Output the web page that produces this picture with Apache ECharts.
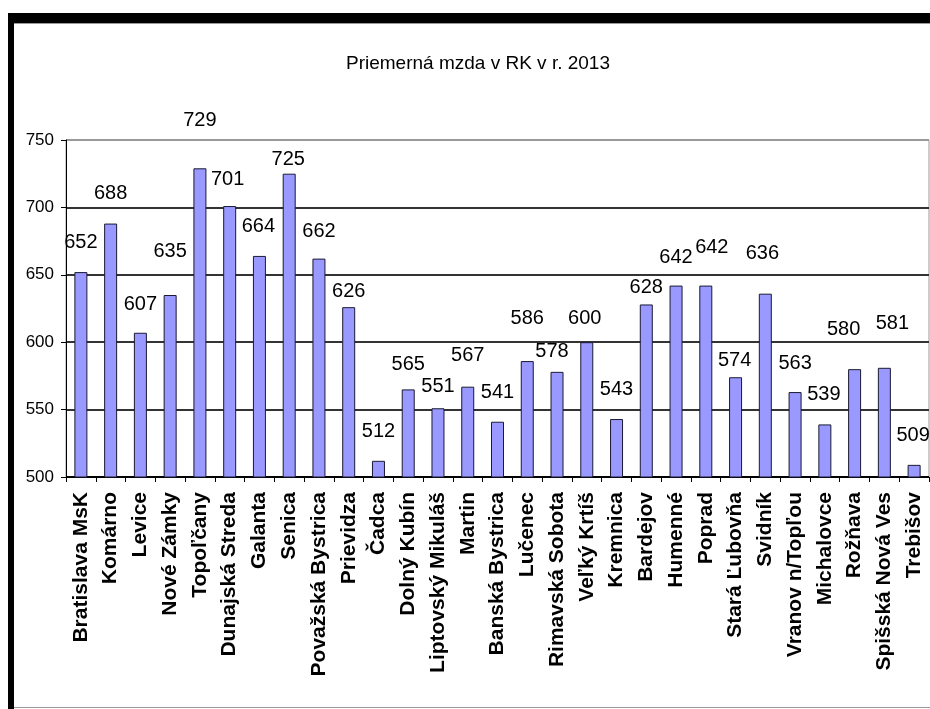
<!DOCTYPE html>
<html><head><meta charset="utf-8">
<script src="https://cdn.jsdelivr.net/npm/echarts@6/dist/echarts.min.js"></script>
<style>html,body{margin:0;padding:0;background:#fff}#c{width:930px;height:709px}</style>
</head><body><div id="c"></div>
<script>
const titleText = 'Priemerná mzda v RK v r. 2013';
const categories = ['Bratislava MsK','Komárno','Levice','Nové Zámky','Topoľčany','Dunajská Streda','Galanta','Senica','Považská Bystrica','Prievidza','Čadca','Dolný Kubín','Liptovský Mikuláš','Martin','Banská Bystrica','Lučenec','Rimavská Sobota','Veľký Krtíš','Kremnica','Bardejov','Humenné','Poprad','Stará Ľubovňa','Svidník','Vranov n/Topľou','Michalovce','Rožňava','Spišská Nová Ves','Trebišov'];
const wages = [652,688,607,635,729,701,664,725,662,626,512,565,551,567,541,586,578,600,543,628,642,642,574,636,563,539,580,581,509];
const yTicks = [500,550,600,650,700,750];
// manual label placement (px above bar top, px horizontal shift), as in the source
const labelLift = [30,30,28,44,48,27,29,14,27,16,29,25,22,31,29,43,20,24,30,17,28,38,17,40,29,30,40,44,29];
const labelShift = [0,0,0,0,0,-2,-1,-1,0,0,0,0,0,0,0,0,-5,-2,0,0,0,6,-1,-3,0,-1,-11,8,-1];

const sans = '"Liberation Sans",Arial,sans-serif';
const chart = echarts.init(document.getElementById('c'), null, {renderer:'canvas'});
chart.setOption({
  animation:false,
  backgroundColor:'#fff',
  title:{text:titleText,left:473,top:49,textAlign:'center',
    textStyle:{fontFamily:sans,fontSize:19,fontWeight:'normal',color:'#000'}},
  grid:{left:66,top:140,right:1,bottom:232,show:true,borderColor:'#999',borderWidth:1,containLabel:false},
  xAxis:{type:'category',data:categories,
    axisLine:{lineStyle:{color:'#000',width:1}},
    axisTick:{show:true,alignWithLabel:false,length:5,lineStyle:{color:'#000'}},
    axisLabel:{rotate:90,interval:0,margin:15,color:'#000',fontFamily:sans,fontWeight:'bold',fontSize:21}},
  yAxis:{type:'value',min:yTicks[0],max:yTicks[yTicks.length-1],interval:50,
    axisLine:{show:true,lineStyle:{color:'#000',width:1}},
    axisTick:{show:true,length:5,lineStyle:{color:'#000'}},
    axisLabel:{margin:12,color:'#000',fontFamily:sans,fontSize:17},
    splitLine:{show:true,lineStyle:{color:['#000','#333','#333','#333','#333','#999'],width:2}}},
  series:[{type:'bar',barWidth:13,
    data:wages.map((v,i)=>({value:v,label:{offset:[labelShift[i],-(labelLift[i]-9)]}})),
    itemStyle:{color:'#9999FF',borderColor:'#1a1a33',borderWidth:1},
    label:{show:true,position:'top',distance:0,color:'#000',fontFamily:sans,fontSize:20,lineHeight:18}}],
  graphic:[
    {type:'rect',shape:{x:8,y:13,width:922,height:10},style:{fill:'#000'},z:100},
    {type:'rect',shape:{x:8,y:13,width:6,height:696},style:{fill:'#000'},z:100},
    {type:'line',shape:{x1:14,y1:23.5,x2:930,y2:23.5},style:{stroke:'#999',lineWidth:1},z:100},
    {type:'line',shape:{x1:14,y1:707.5,x2:930,y2:707.5},style:{stroke:'#999',lineWidth:1},z:100}
  ]
});
</script></body></html>
